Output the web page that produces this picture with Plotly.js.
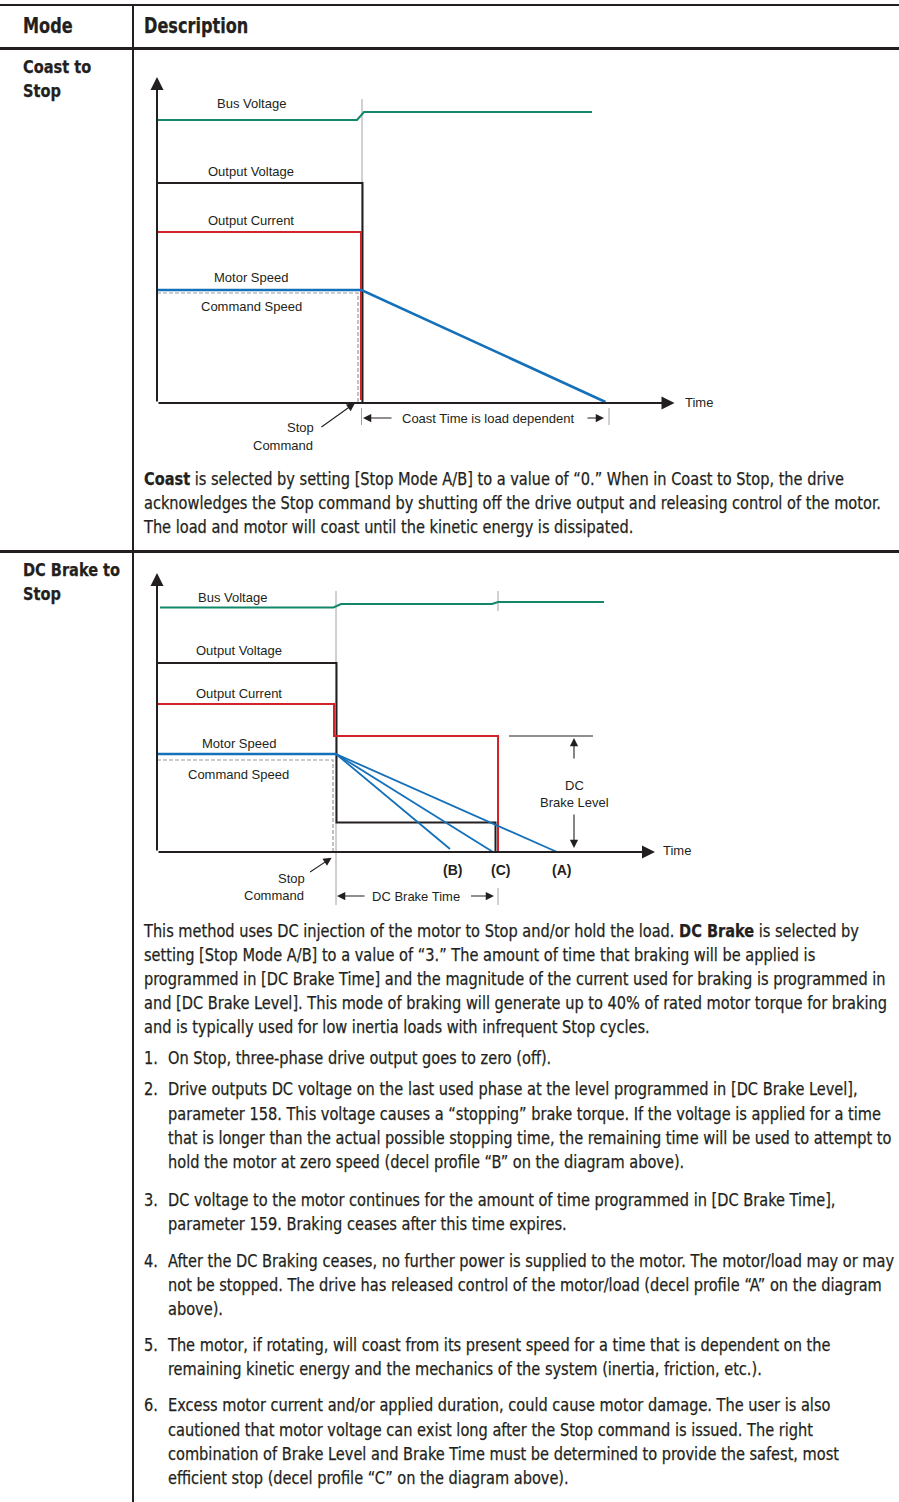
<!DOCTYPE html>
<html><head><meta charset="utf-8">
<script src="https://cdn.plot.ly/plotly-3.0.1.min.js"></script>
<style>
html,body{margin:0;padding:0;background:#fff;}
#page{position:relative;width:899px;height:1502px;overflow:hidden;background:#fff;color:#231f20;
 font-family:"Liberation Sans Narrow","Arial Narrow","DejaVu Sans Condensed",sans-serif;}
.rule{position:absolute;background:#231f20;}
.t{position:absolute;white-space:nowrap;transform-origin:0 0;-webkit-text-stroke:0.25px #231f20;}
.chart{position:absolute;}
</style></head><body><div id="page">
<div class="rule" style="left:0;top:4px;width:899px;height:2px"></div>
<div class="rule" style="left:0;top:47px;width:899px;height:2.5px"></div>
<div class="rule" style="left:0;top:550px;width:899px;height:2.5px"></div>
<div class="rule" style="left:132px;top:4px;width:2px;height:1498px"></div>
<div id="c1" class="chart" style="left:140px;top:60px;width:600px;height:400px"></div>
<div id="c2" class="chart" style="left:140px;top:560px;width:600px;height:350px"></div>
</div>
<script>
// ---------- Coast to Stop diagram (time units / level units) ----------
const coastBusT = [0, 20.0, 20.7, 43.5];
const coastBusV = [28.3, 28.3, 29.1, 29.1];
const coastOutVoltT = [0, 20.55, 20.55];
const coastOutVoltV = [22.0, 22.0, 0];
const coastCurrT = [0, 20.4, 20.4];
const coastCurrV = [17.1, 17.1, 0.3];
const coastSpeedT = [0, 20.45, 44.85];
const coastSpeedV = [11.3, 11.3, 0.1];
const coastCmdT = [0, 20.1, 20.1];
const coastCmdV = [11.0, 11.0, 0];
const coastStopT = 20.5;
const coastEndT = 45.2;

// ---------- DC Brake to Stop diagram ----------
const dcBusT = [0.3, 17.65, 18.4, 33.5, 34.1, 44.7];
const dcBusV = [24.45, 24.45, 24.8, 24.8, 25.0, 25.0];
const dcOutVoltT = [0, 17.95, 17.95, 33.85, 33.85];
const dcOutVoltV = [18.9, 18.9, 2.95, 2.95, 0];
const dcCurrT = [0, 17.7, 17.7, 34.1, 34.1];
const dcCurrV = [14.8, 14.8, 11.6, 11.6, 0];
const dcSpeedT = [0, 17.9];
const dcSpeedV = [9.8, 9.8];
const dcDecelBT = [17.9, 29.3];
const dcDecelBV = [9.8, 0.3];
const dcDecelCT = [17.9, 33.6];
const dcDecelCV = [9.8, 0];
const dcDecelAT = [17.9, 40.0];
const dcDecelAV = [9.8, 0];
const dcCmdT = [0, 17.6, 17.6];
const dcCmdV = [9.2, 9.2, 0];
const dcStopT = 17.9;
const dcBrakeEndT = 34.1;
const dcBrakeLevel = 11.6;

const C = {green:'#13876b', black:'#231f20', red:'#d2232a', blue:'#1470b9', dash:'#9a9a9a', thin:'#8a8a8a'};
const LF = {family:'"Liberation Sans", Arial, sans-serif', size:13, color:C.black};

function ln(x, y, color, width, dash){
  return {x:x, y:y, type:'scatter', mode:'lines', hoverinfo:'skip',
    line:{color:color, width:width, dash:dash||'solid', shape:'linear'}};
}
function arrow(x, y, ax, ay, o){
  return Object.assign({x:x, y:y, ax:ax, ay:ay, xref:'x', yref:'y', axref:'x', ayref:'y',
    text:'', showarrow:true, arrowhead:2, arrowsize:1.5, arrowwidth:1.1, arrowcolor:C.black,
    standoff:0, startstandoff:0}, o||{});
}
function label(x, y, text, o){
  return Object.assign({x:x, y:y, xref:'x', yref:'y', text:text, showarrow:false,
    xanchor:'center', yanchor:'middle', font:LF}, o||{});
}
function baseLayout(h, yr, ann){
  return {width:600, height:h, margin:{l:0,r:0,t:0,b:0},
    paper_bgcolor:'rgba(0,0,0,0)', plot_bgcolor:'rgba(0,0,0,0)',
    xaxis:{range:[-1.7, 58.3], visible:false, fixedrange:true},
    yaxis:{range:yr, visible:false, fixedrange:true},
    showlegend:false, hovermode:false, annotations:ann};
}
const axisArrow = {arrowhead:2, arrowwidth:2, arrowsize:1.3};

// Chart 1
const c1Traces = [
  ln([coastStopT, coastStopT], [30.4, 0], C.thin, 0.8),
  ln([coastStopT-0.05, coastStopT-0.05], [-0.5, -2.2], C.thin, 0.8),
  ln([coastEndT, coastEndT], [-0.5, -2.2], C.thin, 0.8),
  ln(coastCmdT, coastCmdV, C.dash, 1.2, '4px,2px'),
  ln(coastOutVoltT, coastOutVoltV, C.black, 2),
  ln(coastCurrT, coastCurrV, C.red, 2),
  ln(coastSpeedT, coastSpeedV, C.blue, 2.6),
  ln(coastBusT, coastBusV, C.green, 2)
];
const c1Ann = [
  arrow(0, 32.6, 0, 0, axisArrow),
  arrow(51.75, 0, 0, 0, axisArrow),
  label(9.4, 30.0, 'Bus Voltage'),
  label(9.4, 23.2, 'Output Voltage'),
  label(9.4, 18.3, 'Output Current'),
  label(9.4, 12.6, 'Motor Speed'),
  label(9.4, 9.7, 'Command Speed'),
  label(54.2, 0.1, 'Time'),
  label(14.3, -2.4, 'Stop'),
  label(12.6, -4.2, 'Command'),
  label(33.1, -1.5, 'Coast Time is load dependent'),
  arrow(19.8, 0, 16.3, -2.5),
  arrow(20.6, -1.5, 23.6, -1.5),
  arrow(44.7, -1.5, 42.9, -1.5)
];
Plotly.newPlot('c1', c1Traces, baseLayout(400, [-5.7, 34.3], c1Ann), {staticPlot:true, displayModeBar:false});

// Chart 2
const c2Traces = [
  ln([dcStopT, dcStopT], [26.1, -5.3], C.thin, 0.8),
  ln([dcBrakeEndT, dcBrakeEndT], [26.1, 24.1], C.thin, 0.8),
  ln([dcBrakeEndT, dcBrakeEndT], [-3.6, -5.3], C.thin, 0.8),
  ln([35.2, 43.6], [dcBrakeLevel, dcBrakeLevel], C.black, 1),
  ln(dcCmdT, dcCmdV, C.dash, 1.2, '4px,2px'),
  ln(dcOutVoltT, dcOutVoltV, C.black, 2),
  ln(dcCurrT, dcCurrV, C.red, 2),
  ln(dcSpeedT, dcSpeedV, C.blue, 2.4),
  ln(dcDecelBT, dcDecelBV, C.blue, 1.8),
  ln(dcDecelCT, dcDecelCV, C.blue, 1.8),
  ln(dcDecelAT, dcDecelAV, C.blue, 1.8),
  ln(dcBusT, dcBusV, C.green, 2)
];
const bold14 = {font:{family:LF.family, size:14, color:C.black}};
const c2Ann = [
  arrow(0, 27.9, 0, 0, axisArrow),
  arrow(49.8, 0, 0, 0, axisArrow),
  label(7.5, 25.5, 'Bus Voltage'),
  label(8.2, 20.2, 'Output Voltage'),
  label(8.2, 15.9, 'Output Current'),
  label(8.2, 10.9, 'Motor Speed'),
  label(8.1, 7.8, 'Command Speed'),
  label(52.0, 0.13, 'Time'),
  label(41.7, 6.7, 'DC'),
  label(41.7, 4.93, 'Brake Level'),
  label(29.5, -1.8, '<b>(B)</b>', bold14),
  label(34.3, -1.8, '<b>(C)</b>', bold14),
  label(40.4, -1.8, '<b>(A)</b>', bold14),
  label(13.4, -2.6, 'Stop'),
  label(11.7, -4.3, 'Command'),
  label(25.9, -4.4, 'DC Brake Time'),
  arrow(17.46, -0.57, 15.16, -2.1),
  arrow(41.7, 11.4, 41.7, 9.2),
  arrow(41.7, 0.4, 41.7, 3.9),
  arrow(18.0, -4.4, 20.9, -4.4),
  arrow(33.7, -4.4, 31.25, -4.4)
];
Plotly.newPlot('c2', c2Traces, baseLayout(350, [-5.8, 29.2], c2Ann), {staticPlot:true, displayModeBar:false});

// ---------- Text ----------
const B = 18.5, H = 20.5;
const textLines = [
  [23, 33.3, H, true, 'Mode'],
  [144, 33.3, H, true, 'Description'],
  [23, 73.3, B, true, 'Coast to'],
  [23, 97.3, B, true, 'Stop'],
  [23, 576.5, B, true, 'DC Brake to'],
  [23, 600.5, B, true, 'Stop'],
  [144, 485.5, B, false, '<b>Coast</b> is selected by setting [Stop Mode A/B] to a value of “0.” When in Coast to Stop, the drive'],
  [144, 509.5, B, false, 'acknowledges the Stop command by shutting off the drive output and releasing control of the motor.', 'ref'],
  [144, 533.5, B, false, 'The load and motor will coast until the kinetic energy is dissipated.'],
  [144, 938, B, false, 'This method uses DC injection of the motor to Stop and/or hold the load. <b>DC Brake</b> is selected by'],
  [144, 962, B, false, 'setting [Stop Mode A/B] to a value of “3.” The amount of time that braking will be applied is'],
  [144, 986, B, false, 'programmed in [DC Brake Time] and the magnitude of the current used for braking is programmed in'],
  [144, 1010, B, false, 'and [DC Brake Level]. This mode of braking will generate up to 40% of rated motor torque for braking'],
  [144, 1034, B, false, 'and is typically used for low inertia loads with infrequent Stop cycles.'],
  [144, 1064.3, B, false, '1.'],
  [168, 1064.3, B, false, 'On Stop, three-phase drive output goes to zero (off).'],
  [144, 1096, B, false, '2.'],
  [168, 1096, B, false, 'Drive outputs DC voltage on the last used phase at the level programmed in [DC Brake Level],'],
  [168, 1121, B, false, 'parameter 158. This voltage causes a “stopping” brake torque. If the voltage is applied for a time'],
  [168, 1145, B, false, 'that is longer than the actual possible stopping time, the remaining time will be used to attempt to'],
  [168, 1169, B, false, 'hold the motor at zero speed (decel profile “B” on the diagram above).'],
  [144, 1207, B, false, '3.'],
  [168, 1207, B, false, 'DC voltage to the motor continues for the amount of time programmed in [DC Brake Time],'],
  [168, 1231, B, false, 'parameter 159. Braking ceases after this time expires.'],
  [144, 1268, B, false, '4.'],
  [168, 1268, B, false, 'After the DC Braking ceases, no further power is supplied to the motor. The motor/load may or may'],
  [168, 1292, B, false, 'not be stopped. The drive has released control of the motor/load (decel profile “A” on the diagram'],
  [168, 1316, B, false, 'above).'],
  [144, 1352, B, false, '5.'],
  [168, 1352, B, false, 'The motor, if rotating, will coast from its present speed for a time that is dependent on the'],
  [168, 1376, B, false, 'remaining kinetic energy and the mechanics of the system (inertia, friction, etc.).'],
  [144, 1412, B, false, '6.'],
  [168, 1412, B, false, 'Excess motor current and/or applied duration, could cause motor damage. The user is also'],
  [168, 1437, B, false, 'cautioned that motor voltage can exist long after the Stop command is issued. The right'],
  [168, 1461, B, false, 'combination of Brake Level and Brake Time must be determined to provide the safest, most'],
  [168, 1485, B, false, 'efficient stop (decel profile “C” on the diagram above).']
];
const page = document.getElementById('page');
const els = [];
let refEl = null;
textLines.forEach(function(l){
  const d = document.createElement('div');
  d.className = 't';
  d.style.left = l[0] + 'px';
  d.style.top = (l[1] - 0.846 * l[2]) + 'px';
  d.style.fontSize = l[2] + 'px';
  d.style.lineHeight = l[2] + 'px';
  if (l[3]) d.style.fontWeight = 'bold';
  d.innerHTML = l[4];
  page.appendChild(d);
  els.push(d);
  if (l[5] === 'ref') refEl = d;
});
const k = 737 / refEl.getBoundingClientRect().width;
els.forEach(function(d){ d.style.transform = 'scaleX(' + k + ')'; });
</script></body></html>
